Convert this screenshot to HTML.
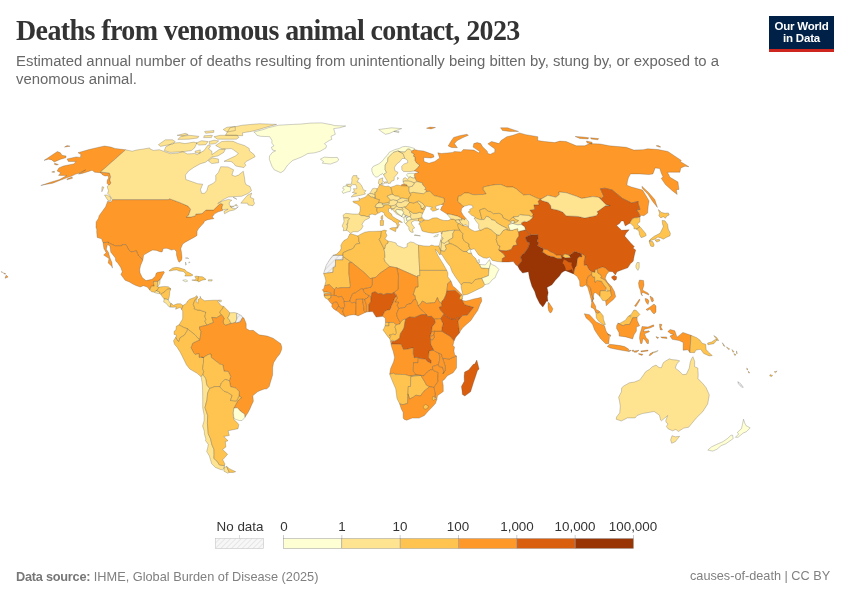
<!DOCTYPE html>
<html><head><meta charset="utf-8">
<style>
html,body{margin:0;padding:0;background:#fff;}
body{width:850px;height:600px;position:relative;overflow:hidden;font-family:"Liberation Sans",sans-serif;}
#title,#sub,#foot1,#foot2,.lg,#logo .t{will-change:transform;}
#title{position:absolute;left:16px;top:15px;font-family:"Liberation Serif",serif;font-weight:bold;font-size:28px;line-height:32px;color:#333;white-space:nowrap;letter-spacing:-0.6px;transform:scaleY(1.07);transform-origin:0 25.2px;}
#sub{position:absolute;left:16px;top:52px;width:760px;font-size:14.9px;line-height:18px;color:#686868;letter-spacing:0px;}
#logo{position:absolute;left:769px;top:16px;width:65px;height:36px;background:#002147;}
#logo .bar{position:absolute;left:0;bottom:0;width:65px;height:3px;background:#ce261e;}
#logo .t{position:absolute;left:0;top:5px;width:65px;text-align:center;color:#fff;font-weight:bold;font-size:11.5px;line-height:11.8px;letter-spacing:-0.2px;}
#map{position:absolute;left:0;top:0;}
.lg{position:absolute;font-size:13.4px;line-height:15px;color:#333;white-space:nowrap;}
#foot1{position:absolute;left:16px;top:569px;font-size:12.75px;color:#808080;white-space:nowrap;}
#foot2{position:absolute;right:20px;top:569px;font-size:12.7px;color:#808080;white-space:nowrap;}
</style></head><body>
<div id="title">Deaths from venomous animal contact, 2023</div>
<div id="sub">Estimated annual number of deaths resulting from unintentionally being bitten by, stung by, or exposed to a venomous animal.</div>
<div id="logo"><div class="t">Our World<br>in Data</div><div class="bar"></div></div>
<svg id="map" width="850" height="600" viewBox="0 0 850 600">
<defs><pattern id="hatch" width="4" height="4" patternUnits="userSpaceOnUse" patternTransform="rotate(45)"><rect width="4" height="4" fill="#f2f2f2"/><line x1="0" y1="0" x2="0" y2="4" stroke="#d0d0d0" stroke-width="1.2"/></pattern></defs>
<g stroke="#3a3a3a" stroke-opacity="0.55" stroke-width="0.45" stroke-linejoin="round">
<path fill="#fe9929" d="M107.7 201.2L111.0 202.2L112.7 199.6L168.9 199.6L169.4 198.7L179.0 202.2L188.0 206.1L190.7 209.2L188.6 215.2L186.4 217.0L190.8 217.0L195.6 215.7L195.7 214.1L202.0 213.6L206.0 210.0L213.4 210.0L218.0 205.6L220.3 203.6L222.3 203.9L222.9 204.5L221.7 208.1L222.8 210.0L222.6 210.5L218.4 211.8L214.9 213.6L212.7 216.2L212.1 217.0L213.8 218.3L213.6 218.8L210.2 219.3L207.1 219.9L204.2 221.4L203.8 223.0L200.9 225.9L200.3 226.7L198.7 228.5L197.1 231.1L197.0 235.5L194.4 237.2L190.7 239.2L185.7 241.9L182.7 244.0L180.8 248.5L181.6 253.3L182.0 258.0L181.4 260.4L179.3 262.2L178.9 262.0L177.7 259.6L176.5 255.1L176.5 251.7L174.3 249.3L171.5 250.1L167.8 248.5L166.1 248.3L163.3 248.5L162.1 252.0L159.7 251.7L156.6 250.4L152.7 250.1L150.2 251.2L143.6 255.1L142.9 260.0L138.5 255.9L137.3 253.3L136.5 250.9L131.1 252.0L128.8 249.9L125.9 244.6L122.1 244.6L121.7 245.8L115.2 245.8L108.1 242.7L108.5 242.2L103.0 242.7L101.6 238.8L97.2 237.5L96.7 231.9L96.8 228.8L96.0 228.2L96.1 221.9L98.5 218.3L99.1 215.7L105.6 206.8L107.7 201.2ZM125.6 149.8L114.9 148.4L110.9 147.1L104.5 146.0L96.7 147.7L89.1 149.5L78.0 152.7L81.0 154.6L80.6 156.0L80.7 157.4L76.1 156.9L67.0 159.0L68.4 161.5L76.2 161.5L73.6 163.9L68.1 165.0L63.3 166.0L58.9 167.9L57.1 171.0L60.7 172.7L58.5 175.4L64.1 175.4L66.7 175.6L59.5 179.5L49.6 182.5L40.8 185.5L45.5 184.5L52.7 183.2L60.9 180.0L67.4 177.6L71.8 176.1L75.8 174.1L79.0 173.2L85.7 169.8L78.6 174.1L82.2 173.4L87.8 171.7L92.1 170.3L94.7 172.2L99.8 172.7L101.5 173.4L102.3 174.7L105.0 176.0L108.0 175.7L108.7 178.0L107.3 180.0L107.0 183.3L108.7 185.0L109.3 185.0L111.0 183.0L109.7 180.0L110.7 176.7L109.3 173.0L100.5 172.0ZM66.9 179.8L72.5 178.3L72.1 177.1L67.4 178.8ZM54.7 163.2L58.4 164.6L56.2 165.0L54.3 164.3ZM54.4 171.2L54.4 172.4L51.7 172.0ZM5.1 278.3L8.1 277.0L6.2 275.2L5.8 276.0ZM3.4 272.8L5.9 273.9L4.4 274.1ZM1.4 271.5L2.6 272.3L1.8 272.5ZM-1.6 269.9L-0.6 270.4L-1.4 270.7Z"/>
<path fill="#fee391" d="M125.6 149.8L132.3 151.2L136.1 150.1L143.3 149.0L149.6 147.9L150.0 149.0L153.6 150.4L159.3 149.7L164.2 151.5L168.0 152.8L170.5 153.7L178.0 153.0L182.7 151.7L187.5 153.9L194.7 153.5L197.3 154.6L199.4 153.0L203.8 150.8L208.1 144.9L210.6 145.8L208.6 149.0L211.9 151.2L211.9 154.6L219.2 149.5L225.4 149.0L223.8 152.4L217.8 156.0L212.0 156.9L205.6 162.2L200.0 163.9L193.8 167.4L188.6 171.0L185.4 175.1L185.8 179.5L192.9 182.0L197.7 183.7L202.7 184.2L200.5 189.5L201.6 193.3L204.6 193.3L206.8 190.7L208.3 185.7L213.5 183.2L215.7 180.7L215.8 177.1L215.5 175.8L218.5 172.2L220.7 166.7L227.9 166.9L233.6 169.8L231.9 175.1L235.1 176.3L238.5 175.1L243.3 171.2L244.6 178.3L245.0 182.0L245.9 184.5L250.0 186.5L251.5 190.7L248.0 193.5L241.6 196.3L233.4 196.6L228.2 197.1L223.2 199.6L217.7 203.5L222.7 200.9L228.4 199.4L231.8 200.2L229.4 202.2L229.3 204.5L231.7 207.9L235.7 208.7L238.3 206.8L234.2 210.0L229.5 211.0L224.5 213.8L224.0 211.3L228.2 209.2L225.0 209.4L222.8 210.0L221.7 208.1L222.9 204.5L222.3 203.9L220.3 203.6L218.0 205.6L213.4 210.0L206.0 210.0L202.0 213.6L195.7 214.1L195.6 215.7L190.8 217.0L186.4 217.0L188.6 215.2L190.7 209.2L188.0 206.1L179.0 202.2L169.4 198.7L168.9 199.6L112.7 199.6L112.0 199.4L110.9 197.1L109.3 195.0L107.6 193.3L108.6 190.7L107.6 188.2L107.3 186.2L108.7 185.0L109.3 185.0L111.0 183.0L109.7 180.0L110.7 176.7L109.3 173.0L100.5 172.0ZM243.9 167.6L238.9 166.7L235.7 166.0L233.0 162.7L231.0 161.5L224.0 161.3L235.7 155.8L238.4 153.5L233.8 150.1L231.4 148.6L222.0 149.0L215.7 145.5L221.7 141.5L226.9 141.1L233.1 141.3L237.8 143.4L244.4 145.5L249.2 148.4L249.4 150.8L254.1 154.6L255.1 156.7L249.7 159.7L246.1 161.5L244.7 163.2L245.8 165.3ZM191.3 150.6L182.7 151.7L170.1 152.4L164.3 150.6L165.8 146.8L172.4 143.2L179.6 142.6L184.9 143.6L193.8 142.1L196.9 143.0L194.6 147.9ZM158.4 144.7L160.5 146.4L173.0 144.0L175.2 141.5L172.5 139.8L165.4 139.8L161.4 142.6ZM242.7 135.7L225.4 135.3L227.2 132.4L229.9 127.8L242.3 125.2L259.4 123.7L276.6 124.4L267.3 126.9L259.2 129.4L251.3 131.4L242.5 132.8ZM236.4 139.2L217.5 139.2L213.9 136.7L220.1 135.3L237.1 135.1L238.9 137.4ZM205.8 144.7L198.9 145.1L196.1 143.0L201.7 140.7L208.1 141.5ZM215.7 143.6L209.5 144.3L209.2 141.5L214.1 140.2L218.7 140.9ZM197.7 138.0L189.1 139.2L177.8 139.4L181.1 136.3L189.4 135.3L198.9 136.3ZM211.4 137.6L203.6 137.6L204.2 135.7L212.4 135.3ZM218.7 162.7L211.8 163.6L208.3 160.8L212.2 157.8L218.4 159.0ZM240.8 203.2L247.6 203.2L248.1 205.0L252.9 205.7L254.6 203.2L253.4 200.9L253.9 198.9L250.3 197.3L251.7 193.0L247.4 195.3L243.8 199.4ZM110.6 201.2L107.8 200.2L104.5 195.0L107.3 195.0L110.3 197.1L111.0 199.9ZM101.8 191.8L102.0 186.7L103.9 187.2ZM235.3 130.5L226.9 132.0L223.2 129.5L227.0 127.2L235.2 126.4ZM200.1 153.3L195.3 152.8L195.0 151.2L200.3 149.9ZM177.1 135.3L185.4 133.3L188.2 134.5L182.4 135.9ZM205.7 133.3L204.6 131.4L214.0 130.5L213.7 132.4ZM233.1 197.3L236.9 199.4L235.8 198.4ZM230.1 206.3L234.4 206.1L230.9 207.4ZM234.6 205.3L236.4 204.3L237.5 206.1Z"/>
<path fill="#ffffd4" d="M280.8 172.7L274.2 169.8L271.9 166.2L270.4 162.2L269.3 159.2L269.5 156.0L272.4 152.4L275.6 150.8L272.5 150.1L271.4 147.3L273.9 145.8L271.8 143.0L272.0 140.5L269.7 136.7L260.7 136.3L256.9 135.3L255.5 133.3L253.8 132.0L263.4 129.5L267.9 127.8L278.7 125.2L293.2 124.4L300.4 124.1L310.7 123.1L321.7 122.9L332.0 124.8L334.6 125.6L345.7 126.0L339.7 127.8L333.7 128.6L334.4 131.4L335.3 134.3L331.0 136.3L331.8 139.4L329.2 140.5L324.5 143.6L326.5 145.8L326.0 147.9L320.3 151.2L314.8 152.8L307.8 153.5L301.7 156.9L296.5 159.0L292.7 160.4L290.2 162.7L287.7 165.0L286.0 167.4L284.1 170.5Z"/>
<path fill="#fe9929" d="M103.0 242.7L108.5 242.2L108.1 242.7L115.2 245.8L121.7 245.8L122.1 244.6L125.9 244.6L128.8 249.9L131.1 252.0L136.5 250.9L137.3 253.3L138.5 255.9L142.9 260.0L140.5 265.7L139.7 269.8L140.1 273.1L142.4 277.8L146.0 280.6L152.1 279.3L155.5 276.1L156.1 273.3L157.8 272.3L163.9 271.5L164.4 272.5L162.7 275.2L161.5 277.8L160.1 279.7L157.9 281.4L153.7 281.4L153.5 283.0L154.3 286.1L151.4 286.1L150.3 288.7L149.8 290.1L147.2 287.0L143.4 285.7L140.3 287.0L135.9 285.5L132.8 284.0L129.4 282.0L125.1 280.2L123.6 278.2L120.9 274.6L122.3 271.7L120.6 267.3L117.7 263.0L115.7 260.9L115.4 258.0L113.0 254.9L110.8 252.2L109.9 245.9L107.4 244.6L106.3 249.3L108.5 252.5L109.7 257.2L111.9 262.5L112.1 264.9L112.4 268.1L112.0 266.5L108.2 263.0L109.0 258.6L103.6 255.0L106.2 252.8L103.9 248.5L103.3 244.8Z"/>
<path fill="#fec44f" d="M149.8 290.1L150.3 288.7L151.4 286.1L154.3 286.1L153.5 283.0L153.7 281.4L157.9 281.4L157.3 286.5L158.5 287.0L159.4 287.0L156.9 290.5L156.4 290.5L154.5 292.2L151.5 291.8Z"/>
<path fill="#fee391" d="M157.9 281.4L160.1 279.7L159.8 283.6L157.9 286.5L157.3 286.5Z"/>
<path fill="#fee391" d="M154.5 292.2L156.4 290.5L158.3 291.5L160.0 292.1L159.7 293.6L158.1 293.6L155.1 292.8Z"/>
<path fill="#fec44f" d="M159.4 287.0L164.6 286.4L168.4 286.8L170.9 288.9L167.3 289.2L164.7 291.8L162.2 293.4L160.8 294.3L159.7 293.6L160.0 292.1L158.3 291.5L156.4 290.5L156.9 290.5Z"/>
<path fill="#fec44f" d="M170.9 288.9L169.8 291.5L169.5 295.5L168.7 299.4L168.2 299.7L166.4 299.2L164.1 298.9L162.4 296.8L160.8 294.3L162.2 293.4L164.7 291.8L167.3 289.2Z"/>
<path fill="#fee391" d="M168.2 299.7L170.1 303.1L171.0 303.3L170.1 307.1L168.5 306.3L165.9 303.1L163.7 302.1L164.1 298.9L166.4 299.2Z"/>
<path fill="#fec44f" d="M171.0 303.3L173.5 305.2L177.3 303.8L180.5 303.7L183.0 305.5L181.6 309.5L180.3 307.3L175.6 309.2L176.2 306.8L173.4 307.3L170.1 307.1Z"/>
<path fill="#fec44f" d="M168.9 270.8L172.5 268.1L176.1 267.3L179.4 267.8L184.9 269.6L186.9 271.7L189.9 273.1L193.0 275.0L192.2 275.6L190.5 276.0L184.8 276.1L185.9 274.1L183.5 271.5L179.0 271.0L176.9 269.9L173.4 270.2L170.1 271.0Z"/>
<path fill="#fec44f" d="M191.8 280.1L195.5 280.7L198.0 281.0L198.5 276.5L196.0 276.0L194.6 276.8L196.0 278.1L195.6 279.7Z"/>
<path fill="#fec44f" d="M198.0 281.0L198.6 282.0L202.0 280.2L206.0 279.4L204.7 278.3L202.6 276.8L198.5 276.5Z"/>
<path fill="#ffffd4" d="M182.8 280.2L186.0 279.7L187.7 281.0L185.8 281.8L183.6 281.0Z"/>
<path fill="#fee391" d="M208.2 281.0L212.0 281.0L212.2 279.7L208.5 279.7Z"/>
<path fill="#ffffd4" d="M185.5 262.0L186.4 264.6L185.5 265.1ZM187.7 257.8L188.7 258.6L185.4 258.0ZM189.3 261.7L189.9 262.5L188.7 263.0Z"/>
<path fill="#fee391" d="M219.1 301.8L221.2 301.8L221.3 300.0L219.2 300.2Z"/>
<path fill="#fec44f" d="M183.0 305.5L186.3 303.4L187.6 301.0L189.3 299.4L190.8 298.8L194.8 297.3L196.8 295.6L197.6 297.2L195.4 299.2L194.6 301.0L193.2 304.2L194.5 307.3L194.2 308.9L197.6 310.0L199.7 310.1L205.8 312.1L204.9 316.6L206.0 319.7L204.8 321.1L206.9 325.2L200.7 326.6L199.6 326.9L199.6 329.0L201.0 331.4L200.0 339.5L198.1 338.5L195.0 334.8L191.2 331.9L187.4 328.7L184.2 327.7L181.6 326.3L179.0 324.8L182.2 319.7L182.7 318.2L182.7 311.0L181.6 309.5Z"/>
<path fill="#fec44f" d="M197.6 297.2L196.7 299.7L196.0 301.0L197.9 303.4L198.1 299.4L200.3 298.1L200.2 296.3L201.0 298.4L204.6 300.8L207.6 300.5L214.3 300.2L219.2 300.2L217.7 301.5L221.3 305.8L223.8 306.4L221.8 309.5L220.4 311.0L219.9 312.9L221.4 314.7L216.5 317.9L211.8 317.4L213.6 322.4L206.9 325.2L204.8 321.1L206.0 319.7L204.9 316.6L205.8 312.1L199.7 310.1L197.6 310.0L194.2 308.9L194.5 307.3L193.2 304.2L194.6 301.0L195.4 299.2Z"/>
<path fill="#fec44f" d="M223.8 306.4L227.8 310.5L229.7 312.8L229.3 315.3L227.7 317.9L229.2 319.7L231.1 323.4L225.7 325.3L223.6 323.7L223.2 321.3L224.1 318.4L223.0 316.6L221.4 314.7L219.9 312.9L220.4 311.0L221.8 309.5Z"/>
<path fill="#fee391" d="M229.7 312.8L234.7 312.6L237.2 313.3L236.6 314.5L236.9 319.0L235.5 322.4L232.2 323.4L231.1 323.4L229.2 319.7L227.7 317.9L229.3 315.3Z"/>
<path fill="url(#hatch)" d="M237.2 313.3L241.7 315.8L242.6 317.5L240.4 321.9L236.7 322.9L235.5 322.4L236.9 319.0L236.6 314.5Z"/>
<path fill="#fe9929" d="M242.6 317.5L243.9 317.9L246.2 323.7L246.2 328.4L249.7 330.6L253.2 330.3L259.0 334.8L267.2 336.1L273.0 338.2L280.8 343.7L281.8 347.3L281.6 349.7L279.8 354.0L276.9 357.5L273.6 362.7L272.7 367.5L272.6 375.1L270.5 382.0L269.2 386.5L267.0 388.8L264.3 389.1L261.0 390.2L257.5 391.8L252.8 395.7L253.4 401.2L251.6 404.9L249.9 408.9L248.2 412.3L244.8 417.5L244.7 414.2L240.2 411.0L237.4 407.8L233.9 408.1L236.7 402.8L238.2 400.5L241.5 397.6L239.0 396.0L239.3 391.8L236.0 388.1L230.6 386.7L229.4 380.7L230.7 376.5L228.2 371.4L224.0 371.2L222.9 364.8L219.8 364.1L211.3 357.5L210.9 354.0L208.2 354.6L203.5 357.5L201.4 357.3L199.1 357.5L198.9 353.5L195.2 354.6L193.5 352.5L190.9 347.7L192.8 343.0L199.7 339.8L200.0 339.5L201.0 331.4L199.6 329.0L199.6 326.9L200.7 326.6L206.9 325.2L213.6 322.4L211.8 317.4L216.5 317.9L221.4 314.7L223.0 316.6L224.1 318.4L223.2 321.3L223.6 323.7L225.7 325.3L231.1 323.4L232.2 323.4L235.5 322.4L236.7 322.9L240.4 321.9Z"/>
<path fill="#fec44f" d="M179.0 324.8L176.3 326.3L176.0 329.8L174.2 331.2L174.0 334.3L176.6 335.3L175.7 337.4L177.2 340.3L178.8 341.6L180.1 337.7L184.3 335.3L187.2 330.8L187.4 328.7L184.2 327.7L181.6 326.3Z"/>
<path fill="#fec44f" d="M175.7 337.4L173.5 340.8L174.5 344.3L177.2 347.4L180.2 352.2L184.2 360.2L186.4 364.8L189.8 369.1L197.1 373.3L201.1 376.8L202.9 374.6L203.8 371.4L202.6 368.8L203.5 362.5L203.5 357.5L201.4 357.3L199.1 357.5L198.9 353.5L195.2 354.6L193.5 352.5L190.9 347.7L192.8 343.0L199.7 339.8L200.0 339.5L198.1 338.5L195.0 334.8L191.2 331.9L187.4 328.7L187.2 330.8L184.3 335.3L180.1 337.7L178.8 341.6L177.2 340.3Z"/>
<path fill="#fec44f" d="M201.4 357.3L203.5 357.5L203.5 362.5L202.6 368.8L203.8 371.4L202.9 374.6L205.6 378.6L206.8 385.2L209.6 388.6L214.4 386.7L219.4 386.5L219.9 387.0L221.4 382.8L225.2 379.4L229.4 380.7L230.7 376.5L228.2 371.4L224.0 371.2L222.9 364.8L219.8 364.1L211.3 357.5L210.9 354.0L208.2 354.6L203.5 357.5Z"/>
<path fill="#fee391" d="M201.1 376.8L202.3 383.8L202.6 390.8L202.7 399.7L202.7 407.6L204.2 415.5L204.1 420.8L202.6 426.0L204.3 431.3L204.4 433.9L205.9 439.1L205.4 440.4L208.3 444.4L207.6 448.2L206.7 451.6L209.4 456.0L211.6 463.6L215.3 467.4L220.2 469.4L222.4 469.9L223.8 468.7L224.5 465.7L219.4 464.9L217.0 461.1L213.9 458.5L214.1 454.7L214.0 449.5L211.8 444.4L210.7 439.1L208.3 433.9L207.4 423.4L207.7 415.5L205.0 407.6L207.0 399.7L207.6 393.1L209.6 388.6L206.8 385.2L205.6 378.6L202.9 374.6ZM226.6 466.4L224.2 467.4L223.9 471.2L227.8 473.2L229.2 472.4Z"/>
<path fill="#fec44f" d="M209.6 388.6L207.6 393.1L207.0 399.7L205.0 407.6L207.7 415.5L207.4 423.4L208.3 433.9L210.7 439.1L211.8 444.4L214.0 449.5L214.1 454.7L213.9 458.5L217.0 461.1L219.4 464.9L224.5 465.7L224.9 463.9L222.7 459.8L225.0 457.3L227.6 454.2L222.6 449.5L225.9 446.9L225.3 441.7L228.0 440.7L223.8 436.5L229.3 435.5L228.1 430.8L238.0 428.7L238.8 424.5L236.6 422.1L234.2 419.7L233.4 416.8L233.3 412.9L233.9 408.1L236.7 402.8L238.2 400.5L241.5 397.6L239.0 396.0L236.5 401.0L230.5 400.5L232.2 395.4L227.5 392.3L224.0 391.2L219.9 387.0L219.4 386.5L214.4 386.7ZM226.6 466.4L229.2 472.4L233.3 472.4L235.7 471.7L229.8 468.9Z"/>
<path fill="#ffffd4" d="M244.8 417.5L242.0 420.6L239.2 420.5L235.4 419.2L233.9 418.1L233.3 412.9L233.9 408.1L237.4 407.8L240.2 411.0L244.7 414.2Z"/>
<path fill="#fec44f" d="M239.0 396.0L239.3 391.8L236.0 388.1L230.6 386.7L229.4 380.7L225.2 379.4L221.4 382.8L219.9 387.0L224.0 391.2L227.5 392.3L232.2 395.4L230.5 400.5L236.5 401.0Z"/>
<path fill="#fe9929" d="M414.3 149.5L418.3 150.4L423.6 151.0L433.3 154.6L434.1 156.9L431.0 158.0L423.7 157.4L424.0 161.5L429.0 163.2L434.7 161.5L439.7 158.0L437.8 152.8L441.5 153.5L452.9 152.4L454.2 151.5L461.2 151.9L463.3 149.5L473.8 150.1L478.9 153.0L479.7 151.5L473.1 147.1L473.8 143.6L477.2 142.6L480.7 143.6L482.6 146.8L487.2 151.2L487.7 153.5L490.7 154.2L492.6 153.0L494.7 152.4L494.9 149.0L487.8 143.8L491.6 141.5L499.0 143.6L501.1 140.5L506.8 136.7L512.9 135.3L519.5 132.9L525.9 134.7L537.8 136.7L537.7 140.5L544.5 141.5L554.6 142.6L560.0 141.1L566.1 141.5L576.4 145.8L584.6 145.8L589.9 143.6L600.3 144.0L609.3 145.8L626.3 147.3L633.8 150.1L643.2 149.7L647.8 148.8L658.0 149.5L667.9 151.5L681.3 160.4L680.3 161.5L688.9 166.7L685.0 166.2L680.8 167.9L679.9 172.2L669.7 172.2L667.2 172.4L668.8 174.6L669.7 177.1L678.0 182.0L678.3 185.0L679.0 189.5L676.3 189.7L677.2 194.5L672.3 190.7L665.4 184.5L661.2 178.3L663.1 177.1L661.2 172.9L659.8 168.6L655.2 167.9L652.9 173.9L649.1 174.6L639.8 173.9L630.5 173.9L628.5 177.6L627.4 181.5L626.9 185.2L631.4 187.0L640.5 189.5L642.5 190.0L646.8 197.1L649.1 200.9L648.2 206.1L647.6 213.1L643.9 215.7L641.1 215.2L639.9 217.0L639.6 215.4L638.4 212.5L636.2 210.0L640.0 209.4L638.0 203.2L638.2 201.4L631.7 203.0L622.4 198.4L612.2 190.0L604.9 188.2L600.4 188.7L603.8 196.3L601.7 198.4L598.9 197.5L597.2 197.1L592.8 196.6L581.8 198.4L576.5 196.3L566.4 192.8L558.9 192.0L559.4 194.5L555.9 197.3L547.8 195.3L541.5 198.9L540.0 199.1L537.0 198.1L529.3 194.5L523.5 195.0L516.1 188.7L512.7 187.0L506.8 187.0L500.8 184.5L495.1 184.7L490.5 185.5L483.3 187.0L483.3 189.5L486.2 193.8L483.1 194.5L479.1 194.5L475.2 194.8L472.1 194.5L468.6 193.0L464.2 193.0L460.8 195.8L458.4 196.1L457.7 201.2L459.8 203.0L463.1 206.3L464.1 206.3L461.5 208.7L461.2 211.8L463.2 215.2L465.8 218.3L464.6 219.9L461.5 218.3L457.9 216.2L454.6 215.4L451.2 214.4L447.0 214.1L443.4 211.8L440.5 210.0L441.8 206.6L443.7 204.8L441.4 204.5L443.9 202.7L444.6 202.2L444.0 198.1L439.9 197.1L437.3 196.3L433.9 195.6L429.8 191.2L426.0 191.8L426.5 190.5L424.5 189.5L425.7 188.2L425.0 187.0L422.7 185.0L422.5 183.0L417.0 181.6L415.6 179.5L414.9 177.7L414.2 175.1L415.0 173.5L418.9 172.4L415.5 171.2L413.9 171.0L416.8 168.6L419.6 165.3L416.5 162.9L414.9 160.4L414.9 156.9L413.2 156.2L414.2 154.2L411.3 152.6L411.6 151.1ZM448.2 146.0L450.8 141.5L453.7 137.4L459.5 135.7L466.8 134.3L468.4 135.3L462.6 137.8L457.3 140.5L454.4 143.6L457.4 147.7L451.5 147.5ZM502.5 130.5L509.6 131.4L518.5 131.4L507.6 127.8L500.5 127.8ZM575.2 136.5L583.1 137.0L588.8 137.8L588.0 138.9L579.8 138.5ZM590.5 137.8L598.7 138.6L597.9 139.8L591.3 139.1ZM586.4 141.1L592.1 142.2L592.1 143.9L587.2 143.1ZM656.1 145.8L658.2 145.5L660.8 147.1L659.1 147.1ZM67.1 145.5L70.1 146.2L64.5 147.1ZM657.4 207.4L654.8 199.6L648.6 192.5L641.9 186.2L642.3 188.2L648.1 194.5L652.3 200.9ZM426.5 128.2L430.0 127.1L435.5 127.5L431.0 128.9ZM401.1 185.8L407.2 186.1L406.8 184.7L404.0 184.0L401.6 184.6ZM57.4 151.5L60.4 152.8L61.9 155.3L66.1 156.0L65.8 157.8L60.7 159.2L54.2 162.0L51.8 159.9L48.4 159.2L44.0 160.4Z"/>
<path fill="#ffffd4" d="M375.9 177.1L373.4 174.9L371.9 171.2L371.8 168.4L373.5 166.2L378.0 164.3L381.4 162.0L383.8 159.2L386.1 156.2L387.5 155.1L389.1 152.4L391.4 151.2L394.6 149.7L399.4 148.4L402.4 146.8L405.2 146.4L409.0 146.8L414.4 148.4L414.3 149.5L411.6 151.1L409.9 149.3L407.9 149.0L406.0 150.6L405.0 152.1L400.7 151.9L398.2 151.1L397.4 151.1L393.3 152.4L391.1 154.6L388.0 157.8L387.6 161.5L385.2 165.0L385.1 169.8L386.5 172.2L384.8 173.9L383.5 174.6L382.3 173.4L381.4 174.6L380.5 174.6L377.8 176.8ZM385.5 134.3L389.8 133.3L393.8 131.4L401.7 128.6L391.4 127.8L385.8 128.6L378.7 129.5L382.0 132.0ZM393.8 131.4L398.7 132.8L399.0 131.4Z"/>
<path fill="#fee391" d="M383.5 174.6L385.3 177.8L387.3 181.2L387.9 183.5L390.5 183.2L391.0 181.5L394.1 180.3L394.3 177.3L397.3 173.9L398.0 172.4L394.8 170.5L394.4 167.4L396.8 163.9L400.0 161.5L402.1 158.5L404.9 158.5L404.1 156.2L403.1 153.7L398.2 151.1L397.4 151.1L393.3 152.4L391.1 154.6L388.0 157.8L387.6 161.5L385.2 165.0L385.1 169.8L386.5 172.2L384.8 173.9ZM397.5 179.5L398.6 178.3L397.7 177.3Z"/>
<path fill="#fee391" d="M404.9 158.5L407.6 160.4L407.7 162.7L404.0 163.9L401.7 166.2L401.9 169.8L403.5 171.5L409.1 171.7L413.9 171.0L416.8 168.6L419.6 165.3L416.5 162.9L414.9 160.4L414.9 156.9L413.2 156.2L414.2 154.2L411.3 152.6L411.6 151.1L409.9 149.3L407.9 149.0L406.0 150.6L405.0 152.1L400.7 151.9L398.2 151.1L403.1 153.7L404.1 156.2Z"/>
<path fill="#fee391" d="M378.3 183.2L379.1 179.3L382.8 177.8L382.4 180.7L383.6 181.2L381.6 183.2L381.2 184.8L379.4 184.7ZM384.0 183.2L387.0 183.0L386.5 181.7L384.4 182.0ZM381.5 183.5L383.6 183.7L383.1 184.5Z"/>
<path fill="#ffffd4" d="M406.6 174.6L407.6 173.7L411.0 173.2L415.0 173.5L414.2 175.1L414.9 177.7L413.1 178.2L410.4 176.9L408.8 177.3L407.8 176.3L407.0 175.8Z"/>
<path fill="#fee391" d="M403.0 180.7L403.0 179.5L403.9 178.0L405.6 177.7L407.6 179.5L408.8 177.3L410.4 176.9L413.1 178.2L414.9 177.7L415.6 179.5L417.0 181.6L414.1 182.9L410.8 181.5L408.8 181.1L404.9 181.0L403.1 181.7Z"/>
<path fill="#fee391" d="M403.1 181.7L404.9 181.0L408.8 181.1L410.8 181.5L414.1 182.9L414.3 184.1L412.9 185.0L412.7 186.2L408.8 187.1L407.2 186.1L406.8 184.7L404.0 184.0L403.3 182.7Z"/>
<path fill="#fee391" d="M409.9 193.3L408.8 191.2L408.8 187.1L412.7 186.2L412.9 185.0L414.3 184.1L414.1 182.9L417.0 181.6L422.5 183.0L422.7 185.0L425.0 187.0L425.7 188.2L424.5 189.5L426.5 190.5L426.0 191.8L423.7 193.8L421.3 193.5L416.6 193.0L413.1 192.3Z"/>
<path fill="#fec44f" d="M390.5 187.2L394.0 186.2L396.8 185.0L398.9 185.2L401.1 185.8L407.2 186.1L408.8 187.1L408.8 191.2L409.9 193.3L411.1 194.9L409.2 197.1L408.6 199.4L405.3 198.6L402.2 198.1L400.8 198.4L398.4 196.3L395.3 196.1L392.8 194.5L391.8 192.5L391.6 190.5Z"/>
<path fill="#fec44f" d="M376.9 188.7L378.4 187.7L379.4 184.7L381.2 184.8L384.0 186.0L386.0 186.5L388.1 186.0L390.5 187.2L391.6 190.5L391.8 192.5L392.8 194.5L391.3 194.4L387.1 196.3L390.8 200.2L389.2 201.4L389.4 203.5L387.7 203.0L384.2 203.4L382.4 203.4L380.1 202.7L378.3 203.2L379.3 199.6L376.3 199.1L375.6 198.4L375.0 196.8L374.9 195.0L374.6 192.5L376.6 191.5Z"/>
<path fill="#fee391" d="M376.9 188.7L376.6 191.5L374.6 192.5L374.9 195.0L374.1 194.5L371.3 193.5L369.5 193.5L370.6 192.0L371.8 190.0L372.5 188.7L374.5 188.2Z"/>
<path fill="#fee391" d="M367.8 194.3L369.5 193.5L371.3 193.5L374.1 194.5L374.9 195.0L375.0 196.8L374.4 198.2L372.4 197.1L371.1 197.2Z"/>
<path fill="#fec44f" d="M367.8 194.3L365.9 196.8L363.1 197.9L360.2 198.9L358.8 197.9L359.4 200.7L352.8 201.2L353.8 202.7L357.5 204.0L360.2 206.8L360.1 211.0L358.9 214.1L361.0 215.7L364.1 215.7L366.3 216.5L369.4 216.7L369.2 214.9L372.1 214.1L375.3 214.9L378.4 213.1L377.3 212.0L376.8 210.0L377.2 207.6L375.1 206.8L376.6 204.0L378.3 203.2L379.3 199.6L376.3 199.1L375.6 198.4L374.4 198.2L372.4 197.1L371.1 197.2ZM381.0 219.3L382.7 219.3L382.7 215.2L381.3 216.2L380.9 218.0Z"/>
<path fill="#fee391" d="M358.9 214.1L353.2 214.1L345.8 213.3L343.0 215.2L343.7 218.0L348.6 217.9L349.4 218.8L347.9 220.4L347.6 224.0L346.5 224.0L347.5 225.9L346.3 230.3L348.7 231.4L350.4 233.5L353.1 231.7L357.9 231.7L361.3 229.3L363.1 226.1L362.0 224.3L364.6 220.4L369.5 218.0L369.4 216.7L366.3 216.5L364.1 215.7L361.0 215.7Z"/>
<path fill="#fee391" d="M343.7 218.0L344.0 221.7L342.1 226.1L343.6 228.2L343.3 230.9L346.3 230.3L347.5 225.9L346.5 224.0L347.6 224.0L347.9 220.4L349.4 218.8L348.6 217.9Z"/>
<path fill="#fee391" d="M375.1 206.8L376.6 204.0L378.3 203.2L380.1 202.7L382.4 203.4L382.2 204.5L384.3 205.0L383.6 206.8L381.3 207.6L378.8 207.6L377.2 207.6Z"/>
<path fill="#fee391" d="M382.4 203.4L384.2 203.4L387.7 203.0L389.4 203.5L389.2 201.4L390.8 200.2L393.2 199.6L397.2 200.7L397.7 202.2L396.6 203.7L395.9 205.0L391.0 206.1L388.0 204.8L384.3 205.0L382.2 204.5Z"/>
<path fill="#fec44f" d="M378.4 213.1L379.9 212.5L381.1 211.5L384.1 212.8L384.8 215.4L388.2 218.3L391.5 219.9L393.3 221.4L396.1 223.0L397.2 225.6L396.7 228.2L397.6 228.2L398.5 226.1L399.5 224.6L398.1 223.3L399.1 221.7L402.4 222.7L401.2 221.4L396.7 219.1L395.0 218.0L392.3 216.2L391.3 213.8L388.7 212.0L388.5 208.9L391.1 208.1L391.0 206.1L388.0 204.8L384.3 205.0L383.6 206.8L381.3 207.6L378.8 207.6L377.2 207.6L376.8 210.0L377.3 212.0ZM389.6 228.8L395.6 231.7L396.4 227.5L391.9 227.7ZM380.3 225.6L383.4 225.4L383.6 220.6L382.3 219.9L380.2 220.6Z"/>
<path fill="#fee391" d="M387.1 196.3L391.3 194.4L392.8 194.5L395.3 196.1L398.4 196.3L400.8 198.4L397.5 200.2L397.2 200.7L393.2 199.6L390.8 200.2Z"/>
<path fill="#fee391" d="M397.2 200.7L397.5 200.2L400.8 198.4L402.2 198.1L405.3 198.6L408.6 199.4L408.4 201.2L405.1 200.7L401.2 202.7L397.7 202.2Z"/>
<path fill="#fee391" d="M397.7 202.2L401.2 202.7L405.1 200.7L408.4 201.2L409.6 202.3L406.2 206.8L404.5 207.1L401.7 207.6L398.6 207.5L395.9 205.0L396.6 203.7Z"/>
<path fill="#fee391" d="M391.0 206.1L395.9 205.0L397.0 206.1L394.8 207.6L394.3 208.7L391.0 208.7L391.1 208.1Z"/>
<path fill="#fee391" d="M391.0 208.7L394.3 208.7L394.8 207.6L397.0 206.1L398.6 207.5L401.7 207.6L403.1 209.4L402.3 210.2L397.1 209.4L395.7 210.7L396.9 212.8L399.8 214.9L401.9 216.6L399.7 215.5L396.4 213.8L394.5 212.0L392.9 209.4L391.7 210.2Z"/>
<path fill="#ffffd4" d="M395.7 210.7L397.1 209.4L402.3 210.2L403.8 212.5L403.1 213.8L402.2 215.2L401.9 216.6L399.8 214.9L396.9 212.8Z"/>
<path fill="#fee391" d="M402.3 210.2L403.1 209.4L401.7 207.6L404.5 207.1L407.5 209.4L410.2 211.3L409.7 212.5L411.0 214.6L410.3 216.7L408.5 217.0L406.4 215.4L405.6 215.4L404.0 214.6L403.1 213.8L403.8 212.5Z"/>
<path fill="url(#hatch)" d="M405.2 216.2L406.4 215.4L408.5 217.0L406.4 218.0L405.3 217.2Z"/>
<path fill="#ffffd4" d="M401.9 216.6L403.1 213.8L404.0 214.6L405.6 215.4L405.2 216.2L403.9 218.0Z"/>
<path fill="#ffffd4" d="M403.9 218.0L405.2 216.2L406.4 218.0L406.7 220.4L407.6 221.4L405.9 223.8L404.2 222.2L404.3 220.4Z"/>
<path fill="#ffffd4" d="M406.4 218.0L408.5 217.0L410.3 216.7L411.7 219.3L409.6 220.1L406.7 220.4Z"/>
<path fill="#fee391" d="M405.9 223.8L407.6 221.4L409.6 220.1L411.7 219.3L413.8 219.1L418.6 218.5L418.5 220.9L414.8 220.6L411.9 221.9L411.2 223.0L412.9 225.6L414.7 228.0L412.4 229.3L413.3 232.3L411.8 232.4L410.0 231.4L408.7 229.0L409.0 227.2L407.3 225.9ZM414.2 235.3L420.4 235.9L415.3 234.8Z"/>
<path fill="#fee391" d="M409.7 212.5L410.2 211.3L413.1 213.3L416.5 213.3L419.3 212.3L422.8 213.2L421.7 215.9L422.1 217.8L418.6 218.5L413.8 219.1L411.7 219.3L410.3 216.7L411.0 214.6Z"/>
<path fill="#fec44f" d="M404.5 207.1L406.2 206.8L409.6 202.3L413.8 203.0L417.1 201.6L421.0 205.8L421.4 208.7L424.6 209.4L422.8 213.2L419.3 212.3L416.5 213.3L413.1 213.3L410.2 211.3L407.5 209.4Z"/>
<path fill="#fee391" d="M417.1 201.6L418.8 200.9L422.7 203.5L425.0 206.3L422.4 208.7L421.4 208.7L421.0 205.8Z"/>
<path fill="#fec44f" d="M408.6 199.4L409.2 197.1L411.1 194.9L409.9 193.3L413.1 192.3L416.6 193.0L421.3 193.5L423.7 193.8L426.0 191.8L429.8 191.2L433.9 195.6L437.3 196.3L439.9 197.1L444.0 198.1L444.6 202.2L443.9 202.7L441.4 204.5L437.1 205.8L435.2 206.8L436.6 209.2L438.9 208.9L435.8 210.5L432.8 211.3L430.3 208.9L432.4 207.4L428.3 206.6L426.2 206.1L424.6 209.4L421.4 208.7L422.4 208.7L425.0 206.3L422.7 203.5L418.8 200.9L417.1 201.6L413.8 203.0L409.6 202.3L408.4 201.2Z"/>
<path fill="#ffffd4" d="M320.4 159.2L324.3 157.1L331.2 157.6L337.3 157.4L338.8 159.9L336.8 161.7L330.3 164.1L322.3 163.2L323.5 161.5Z"/>
<path fill="#ffffd4" d="M350.4 186.7L350.8 188.7L350.1 191.5L347.7 191.8L343.0 193.4L342.1 191.8L344.3 189.2L342.7 188.5L343.3 186.5L346.0 186.0L346.5 184.1L348.6 184.3L346.7 185.8L348.9 186.7Z"/>
<path fill="#fee391" d="M351.1 197.0L355.6 196.3L360.6 195.3L365.5 194.0L364.4 192.5L366.1 190.7L363.2 189.7L362.8 188.2L361.7 185.7L359.7 183.2L358.8 182.2L356.9 182.0L359.2 178.3L356.9 177.8L357.0 175.6L353.2 175.6L351.8 178.3L351.9 180.7L351.4 183.7L353.1 184.7L355.8 184.7L356.8 187.0L356.7 188.7L353.4 188.7L354.5 191.2L352.3 192.5L356.6 193.3L354.2 194.0ZM348.6 184.3L350.8 184.0L351.9 185.5L350.4 186.7L348.9 186.7L346.7 185.8Z"/>
<path fill="#fec44f" d="M419.7 224.3L421.2 228.2L422.1 230.9L424.4 231.7L429.3 232.7L432.6 233.2L436.9 232.7L441.1 231.4L441.0 233.5L441.9 234.0L442.6 231.4L445.5 231.4L449.7 230.6L454.7 230.3L460.1 230.3L458.5 228.2L458.5 224.6L459.0 223.8L456.0 221.7L455.7 220.1L453.2 219.1L451.1 219.1L448.1 220.6L443.8 220.4L440.5 219.6L437.0 217.8L432.8 218.0L428.8 220.1L424.5 219.9L421.6 222.2L419.5 222.5L418.8 224.3ZM418.6 218.5L422.1 217.8L424.5 219.9L420.1 221.9L418.5 220.9Z"/>
<path fill="#ffffd4" d="M433.7 236.9L437.4 236.4L438.4 234.3L434.9 235.6Z"/>
<path fill="#fee391" d="M447.0 214.1L451.1 219.1L453.2 219.1L455.7 220.1L458.7 219.9L462.1 220.1L461.5 218.3L457.9 216.2L454.6 215.4L451.2 214.4Z"/>
<path fill="#fee391" d="M455.7 220.1L458.7 219.9L459.9 220.6L460.6 223.0L462.7 224.3L463.0 225.9L461.9 225.6L459.4 223.5L459.0 223.8L456.0 221.7Z"/>
<path fill="#fee391" d="M458.7 219.9L462.1 220.1L461.5 218.3L464.6 219.9L465.8 218.3L468.7 221.7L468.8 224.3L468.5 227.2L466.0 224.3L463.0 225.9L462.7 224.3L460.6 223.0L459.9 220.6Z"/>
<path fill="#fee391" d="M374.4 198.2L375.6 198.4L375.0 196.8L374.4 197.1Z"/>
<path fill="#fec44f" d="M349.7 234.0L351.1 233.8L357.8 235.9L358.7 237.5L358.9 241.4L360.0 243.3L356.2 244.0L354.4 246.2L354.4 247.2L351.5 249.3L348.1 250.4L343.1 252.8L343.1 255.4L332.9 255.4L336.8 254.1L340.2 250.6L341.2 248.3L340.8 245.4L342.2 242.7L343.9 240.6L347.7 238.5Z"/>
<path fill="url(#hatch)" d="M343.1 255.4L332.9 255.4L329.9 259.3L326.3 265.1L323.6 273.6L333.0 272.3L333.1 267.8L335.4 266.6L335.5 259.9L343.0 259.9Z"/>
<path fill="#fec44f" d="M323.6 273.6L324.9 277.0L325.9 281.0L324.7 285.7L329.3 284.7L334.5 289.7L336.1 287.3L337.7 288.4L340.8 287.7L350.0 287.6L350.4 285.5L348.9 273.1L349.0 262.8L351.8 262.5L343.0 256.4L343.0 259.9L335.5 259.9L335.4 266.6L333.1 267.8L333.0 272.3Z"/>
<path fill="#fec44f" d="M357.8 235.9L360.5 234.3L364.8 232.2L369.2 231.4L373.5 231.4L381.4 231.1L381.1 234.8L380.7 237.2L379.2 239.3L383.9 248.5L384.6 252.0L385.0 257.2L384.1 258.8L385.3 261.7L389.9 266.5L379.8 273.3L375.9 277.3L372.3 278.1L370.2 278.6L364.9 273.1L351.8 262.5L343.0 256.4L343.1 252.8L348.1 250.4L351.5 249.3L354.4 247.2L354.4 246.2L356.2 244.0L360.0 243.3L358.9 241.4L358.7 237.5Z"/>
<path fill="#fec44f" d="M381.4 231.1L384.2 230.1L386.6 230.6L385.6 232.4L387.0 235.6L384.9 239.0L388.1 241.1L388.2 243.0L385.6 244.8L385.0 248.5L383.9 248.5L379.2 239.3L380.7 237.2L381.1 234.8Z"/>
<path fill="#fee391" d="M388.1 241.1L391.9 241.7L396.1 243.0L397.1 245.4L404.0 248.0L407.2 246.7L407.1 243.8L410.3 241.9L413.6 242.5L416.0 244.0L418.5 245.1L418.6 249.3L419.7 270.4L419.9 275.7L417.6 275.7L417.6 277.0L396.8 267.8L389.9 266.5L385.3 261.7L384.1 258.8L385.0 257.2L384.6 252.0L383.9 248.5L385.0 248.5L385.6 244.8L388.2 243.0Z"/>
<path fill="#fec44f" d="M418.5 245.1L423.9 245.9L429.3 246.2L431.6 245.1L434.6 245.9L438.8 245.9L440.8 250.6L439.9 255.1L436.6 250.4L435.3 249.3L435.9 251.2L438.1 255.9L440.7 259.9L443.8 265.1L446.8 270.4L434.5 270.4L419.7 270.4L418.6 249.3Z"/>
<path fill="#fec44f" d="M419.7 270.4L446.8 270.4L447.9 273.1L447.8 276.8L451.0 281.0L447.7 283.6L446.9 290.7L445.9 295.0L443.5 300.0L442.2 300.8L441.5 303.4L438.9 301.5L437.4 297.6L435.0 302.6L426.5 303.4L422.5 301.0L419.5 305.2L418.1 305.8L417.2 302.1L415.7 299.4L414.7 295.2L413.1 295.2L413.9 292.1L415.6 287.0L418.0 287.0L417.6 277.0L417.6 275.7L419.9 275.7Z"/>
<path fill="#fe9929" d="M418.1 305.8L419.5 305.2L422.5 301.0L426.5 303.4L435.0 302.6L437.4 297.6L438.9 301.5L441.5 303.4L442.3 306.0L439.3 307.3L440.5 310.0L444.1 313.9L441.8 317.1L440.6 318.6L436.7 319.0L434.4 319.2L431.5 316.3L427.8 316.6L426.6 314.7L423.1 311.3L420.7 309.5Z"/>
<path fill="#fe9929" d="M396.8 267.8L417.6 277.0L418.0 287.0L415.6 287.0L413.9 292.1L413.1 295.2L414.7 295.2L415.7 299.4L413.6 300.0L411.4 303.4L406.7 304.7L405.4 307.3L401.0 308.1L398.7 308.7L397.0 305.2L398.6 302.3L394.9 302.1L397.2 298.1L396.2 294.7L394.1 292.3L398.0 289.4L398.4 276.0Z"/>
<path fill="#fe9929" d="M389.9 266.5L396.8 267.8L398.4 276.0L398.0 289.4L394.1 292.3L391.6 293.9L387.4 293.4L383.5 294.7L380.7 293.4L378.4 293.9L375.1 291.8L372.1 292.8L371.0 297.6L369.1 295.7L367.5 295.0L365.0 293.4L363.6 291.5L363.1 289.2L365.6 288.1L370.9 287.3L372.3 284.1L372.3 278.1L375.9 277.3L379.8 273.3Z"/>
<path fill="#fe9929" d="M334.5 289.7L336.1 287.3L337.7 288.4L340.8 287.7L350.0 287.6L350.4 285.5L348.9 273.1L349.0 262.8L351.8 262.5L364.9 273.1L370.2 278.6L372.3 278.1L372.3 284.1L370.9 287.3L365.6 288.1L363.1 289.2L361.5 288.6L358.0 291.0L355.7 292.8L352.7 293.6L350.6 298.4L349.9 301.0L348.3 301.5L346.4 301.5L344.1 301.5L343.4 299.4L341.6 296.3L338.1 297.1L336.3 295.7L334.4 295.5L333.8 293.1Z"/>
<path fill="#fe9929" d="M324.7 285.7L323.7 288.9L322.3 289.7L323.8 292.1L326.6 292.1L330.8 292.8L330.8 293.4L326.6 293.2L324.0 293.9L324.0 295.7L326.8 295.5L331.0 295.2L334.4 295.5L333.8 293.1L334.5 289.7L329.3 284.7Z"/>
<path fill="#fee391" d="M323.8 292.1L326.6 292.1L330.8 292.8L330.8 293.4L326.6 293.2L324.0 293.9Z"/>
<path fill="#fec44f" d="M324.0 295.7L326.8 295.5L331.0 295.2L330.9 296.8L330.9 297.9L327.9 299.4L325.1 297.9Z"/>
<path fill="#fe9929" d="M331.0 295.2L334.4 295.5L336.3 295.7L338.1 297.1L341.6 296.3L343.4 299.4L344.1 301.5L344.8 306.3L343.6 308.4L342.0 308.1L340.8 308.7L338.7 306.0L337.8 303.9L336.7 302.1L334.6 302.3L332.0 304.2L330.2 302.6L327.9 299.4L330.9 297.9L330.9 296.8Z"/>
<path fill="#fe9929" d="M332.0 304.2L334.6 302.3L336.7 302.1L337.8 303.9L338.7 306.0L335.9 310.3L333.6 308.9L331.8 306.6Z"/>
<path fill="#fe9929" d="M335.9 310.3L338.7 306.0L340.8 308.7L342.0 308.1L343.6 308.4L342.9 311.8L345.2 316.8L340.6 313.9L338.2 311.8Z"/>
<path fill="#fe9929" d="M345.2 316.8L349.2 315.3L353.3 314.7L355.9 315.0L356.1 307.6L356.2 303.1L354.5 302.3L351.7 302.9L349.9 301.0L348.3 301.5L346.4 301.5L344.1 301.5L344.8 306.3L343.6 308.4L342.9 311.8Z"/>
<path fill="#fe9929" d="M349.9 301.0L350.6 298.4L352.7 293.6L355.7 292.8L358.0 291.0L361.5 288.6L363.1 289.2L363.6 291.5L365.0 293.4L367.5 295.0L369.1 295.7L367.7 297.9L364.7 299.4L362.4 299.2L356.2 299.4L356.2 303.1L354.5 302.3L351.7 302.9Z"/>
<path fill="#fe9929" d="M355.9 315.0L358.0 315.9L362.2 313.9L365.4 312.4L364.0 310.3L363.8 306.6L362.6 300.5L362.4 299.2L356.2 299.4L356.2 303.1L356.1 307.6Z"/>
<path fill="#fe9929" d="M365.4 312.4L366.4 312.1L366.4 304.7L365.9 303.4L364.7 299.4L362.4 299.2L362.6 300.5L363.8 306.6L364.0 310.3Z"/>
<path fill="#fe9929" d="M366.4 312.1L368.9 311.7L368.9 304.7L371.0 301.3L371.0 297.6L369.1 295.7L367.7 297.9L364.7 299.4L365.9 303.4L366.4 304.7Z"/>
<path fill="#d95f0e" d="M368.9 311.7L372.6 311.6L376.1 317.1L378.9 316.8L382.4 316.3L384.7 311.6L387.3 310.0L390.1 309.7L391.4 306.0L393.5 301.8L394.2 298.9L396.2 296.5L395.5 294.7L394.1 292.3L391.6 293.9L387.4 293.4L383.5 294.7L380.7 293.4L378.4 293.9L375.1 291.8L372.1 292.8L371.0 297.6L371.0 301.3L368.9 304.7Z"/>
<path fill="#fe9929" d="M382.4 316.3L385.2 317.9L385.5 322.4L389.0 322.5L393.6 322.6L396.0 324.8L399.9 324.0L400.4 322.6L397.6 317.9L396.6 314.2L398.7 308.7L397.0 305.2L398.6 302.3L394.9 302.1L397.2 298.1L396.2 294.7L395.5 294.7L396.2 296.5L394.2 298.9L393.5 301.8L391.4 306.0L390.1 309.7L387.3 310.0L384.7 311.6Z"/>
<path fill="#fe9929" d="M396.6 314.2L397.6 317.9L400.4 322.6L403.4 319.5L405.7 319.2L409.2 317.1L415.0 317.4L418.5 315.8L422.0 314.5L426.6 314.7L423.1 311.3L420.7 309.5L418.1 305.8L417.2 302.1L415.7 299.4L413.6 300.0L411.4 303.4L406.7 304.7L405.4 307.3L401.0 308.1L398.7 308.7Z"/>
<path fill="#fec44f" d="M385.5 322.4L385.0 325.8L389.0 325.8L389.0 322.5Z"/>
<path fill="#fec44f" d="M385.0 325.8L384.3 327.9L382.9 330.0L384.8 332.4L388.0 336.9L389.7 338.5L390.6 336.4L389.4 335.0L391.8 334.8L392.9 334.0L395.3 334.8L396.4 333.2L396.0 329.8L395.0 327.1L396.0 324.8L393.6 322.6L389.0 322.5L389.0 325.8Z"/>
<path fill="#fec44f" d="M389.7 338.5L390.6 341.6L392.2 340.1L394.1 341.4L397.6 339.8L399.7 337.7L400.4 333.7L403.0 329.8L404.1 327.7L404.8 323.2L405.7 319.2L403.4 319.5L400.4 322.6L399.9 324.0L396.0 324.8L395.0 327.1L396.0 329.8L396.4 333.2L395.3 334.8L392.9 334.0L391.8 334.8L389.4 335.0L390.6 336.4Z"/>
<path fill="#d95f0e" d="M391.0 344.3L392.9 344.0L401.0 344.3L403.5 349.6L406.8 349.3L413.3 347.7L413.2 353.8L414.1 357.7L418.3 357.5L418.9 358.3L421.7 358.8L425.2 359.0L427.4 361.4L431.1 363.3L431.2 360.6L428.5 357.5L429.1 350.9L433.9 350.3L430.8 344.3L430.6 339.5L430.2 335.8L431.6 331.9L432.1 326.9L434.6 323.7L435.5 322.6L434.4 319.2L431.5 316.3L427.8 316.6L426.6 314.7L422.0 314.5L418.5 315.8L415.0 317.4L409.2 317.1L405.7 319.2L404.8 323.2L404.1 327.7L403.0 329.8L400.4 333.7L399.7 337.7L397.6 339.8L394.1 341.4L392.2 341.1L391.3 343.7Z"/>
<path fill="#fe9929" d="M391.0 344.3L391.5 346.6L393.3 351.7L394.6 357.5L393.6 361.7L390.6 368.5L389.7 374.1L393.7 373.3L395.3 374.3L405.2 374.6L408.6 375.7L410.9 375.9L416.4 374.9L413.3 371.2L413.5 362.7L418.1 362.7L418.3 357.5L414.1 357.7L413.2 353.8L413.3 347.7L406.8 349.3L403.5 349.6L401.0 344.3L392.9 344.0ZM390.6 341.6L392.2 340.6L392.9 341.4L391.0 343.7Z"/>
<path fill="#fe9929" d="M413.5 362.7L413.3 371.2L416.4 374.9L420.8 375.4L424.0 375.9L427.1 372.0L430.6 369.9L432.7 369.6L432.4 366.7L438.4 364.6L439.5 360.6L439.8 356.9L439.0 353.2L434.6 351.1L433.9 350.3L429.1 350.9L428.5 357.5L431.2 360.6L431.1 363.3L427.4 361.4L425.2 359.0L421.7 358.8L418.9 358.3L418.3 357.5L418.1 362.7Z"/>
<path fill="#fec44f" d="M389.7 374.1L391.3 378.6L393.3 383.3L395.7 388.8L397.0 398.6L399.7 403.9L403.0 404.7L407.6 403.4L408.0 393.9L408.3 386.5L410.5 386.5L410.8 376.7L416.1 375.9L420.8 375.4L416.4 374.9L410.9 375.9L408.6 375.7L405.2 374.6L395.3 374.3L393.7 373.3Z"/>
<path fill="#fec44f" d="M408.3 386.5L408.0 393.9L409.6 399.1L413.5 397.0L415.9 395.2L420.4 396.0L424.0 391.2L429.7 386.7L426.6 385.2L424.4 381.2L420.8 375.4L416.1 375.9L410.8 376.7L410.5 386.5Z"/>
<path fill="#fe9929" d="M420.8 375.4L424.0 375.9L427.1 372.0L430.6 369.9L432.7 369.6L434.1 370.7L438.3 372.5L437.8 378.6L438.2 381.2L434.0 387.5L429.7 386.7L426.6 385.2L424.4 381.2Z"/>
<path fill="#fe9929" d="M456.5 356.1L456.6 361.4L456.5 368.0L453.1 372.8L447.4 375.7L444.0 379.9L442.3 380.7L443.2 385.2L443.3 391.5L437.4 395.7L436.9 399.3L435.0 397.0L435.2 394.4L434.0 387.5L438.2 381.2L437.8 378.6L438.3 372.5L434.1 370.7L432.7 369.6L432.4 366.7L438.4 364.6L439.3 366.7L442.3 367.0L443.9 371.2L443.1 373.6L445.1 370.7L445.3 366.7L442.8 358.8L443.7 358.3L449.5 359.0L453.0 357.2Z"/>
<path fill="#fe9929" d="M439.0 353.2L441.3 354.0L442.8 358.8L445.3 366.7L445.1 370.7L443.1 373.6L443.9 371.2L442.3 367.0L439.3 366.7L438.4 364.6L439.5 360.6L439.8 356.9Z"/>
<path fill="#fe9929" d="M454.1 340.8L452.9 345.6L454.5 346.9L453.9 350.9L454.7 354.8L456.5 356.1L453.0 357.2L449.5 359.0L443.7 358.3L442.8 358.8L441.3 354.0L439.0 353.2L434.6 351.1L433.9 350.3L430.8 344.3L430.6 339.5L432.5 339.8L434.4 337.2L433.7 334.8L434.4 331.1L441.6 331.1L450.4 336.4Z"/>
<path fill="#d95f0e" d="M454.1 340.8L455.8 337.2L459.5 332.9L458.1 321.1L460.2 318.2L457.4 317.4L455.3 319.2L451.1 319.0L446.4 316.6L444.1 313.9L441.8 317.1L440.6 318.6L443.0 323.7L441.9 327.9L441.6 331.1L450.4 336.4Z"/>
<path fill="#fe9929" d="M441.6 331.1L434.4 331.1L431.6 331.9L432.1 326.9L434.6 323.7L435.5 322.6L434.4 319.2L436.7 319.0L440.6 318.6L443.0 323.7L441.9 327.9Z"/>
<path fill="#fe9929" d="M430.2 335.8L431.6 331.9L434.4 331.1L433.7 334.8L431.6 336.1Z"/>
<path fill="#fe9929" d="M430.2 335.8L431.6 336.1L433.7 334.8L434.4 337.2L432.5 339.8L430.6 339.5Z"/>
<path fill="#d95f0e" d="M444.1 313.9L446.4 316.6L451.1 319.0L455.3 319.2L457.4 317.4L460.2 318.2L462.7 315.5L467.3 315.3L473.7 307.3L464.8 304.7L461.8 299.7L461.8 298.1L460.7 295.5L458.6 293.4L455.0 290.2L451.5 290.5L448.1 290.7L446.9 290.7L445.9 295.0L443.5 300.0L442.2 300.8L441.5 303.4L442.3 306.0L439.3 307.3L440.5 310.0Z"/>
<path fill="#fe9929" d="M446.9 290.7L447.7 283.6L451.0 281.0L452.9 286.2L454.8 287.6L457.7 290.2L462.3 295.0L460.7 295.5L458.6 293.4L455.0 290.2L451.5 290.5L448.1 290.7Z"/>
<path fill="#fec44f" d="M460.7 295.5L462.3 295.0L462.9 297.1L461.8 298.1L462.7 298.1L461.8 299.7L459.5 299.2L459.4 297.9Z"/>
<path fill="#fe9929" d="M461.8 299.7L463.7 300.8L466.0 301.0L469.3 300.2L473.8 298.9L478.4 298.1L481.2 297.3L481.8 301.0L479.9 304.7L477.7 310.5L474.3 315.3L470.9 320.5L466.3 324.5L462.8 327.7L460.5 330.8L459.5 332.9L458.1 321.1L460.2 318.2L462.7 315.5L467.3 315.3L473.7 307.3L464.8 304.7Z"/>
<path fill="#fe9929" d="M399.7 403.9L401.3 408.9L403.1 412.3L403.2 417.9L404.0 419.2L406.6 420.2L412.3 418.1L419.1 418.1L424.4 415.5L428.3 411.0L432.0 407.3L435.4 403.6L436.9 399.3L435.1 399.1L434.8 396.8L435.2 394.4L434.0 387.5L429.7 386.7L424.0 391.2L420.4 396.0L415.9 395.2L413.5 397.0L409.6 399.1L408.0 393.9L407.6 403.4L403.0 404.7Z"/>
<path fill="#fec44f" d="M423.1 406.5L425.5 404.4L428.5 406.0L427.5 408.4L425.2 409.2L423.7 408.4Z"/>
<path fill="#fec44f" d="M432.8 396.5L435.0 397.0L435.1 399.1L433.7 400.5L432.2 399.1L432.5 397.6Z"/>
<path fill="#d95f0e" d="M476.8 360.1L479.1 369.1L477.4 370.7L476.2 374.6L473.5 382.5L470.6 391.8L464.8 396.0L462.4 394.4L462.0 390.4L461.4 386.5L464.3 381.2L464.1 375.9L464.6 372.0L468.6 369.9L473.3 364.3L474.7 364.1Z"/>
<path fill="#fee391" d="M438.8 245.9L440.8 250.6L441.4 245.4L441.5 242.2L441.6 240.6L440.3 241.1L439.4 245.1Z"/>
<path fill="#fee391" d="M440.3 241.1L441.6 240.6L443.3 238.2L441.8 237.2L441.0 239.0Z"/>
<path fill="#fee391" d="M440.8 250.6L444.5 251.4L446.4 248.5L445.0 245.4L449.7 243.5L448.4 240.4L444.3 243.3L441.5 242.2L441.4 245.4Z"/>
<path fill="#fee391" d="M441.6 240.6L441.5 242.2L444.3 243.3L448.4 240.4L452.9 237.7L452.8 233.5L454.7 230.3L449.7 230.6L445.5 231.4L442.6 231.4L441.9 234.0L441.2 235.1L441.8 237.2L443.3 238.2Z"/>
<path fill="#fec44f" d="M448.4 240.4L449.7 243.5L452.4 244.3L456.5 246.4L462.9 251.4L466.9 251.7L469.3 249.1L471.2 249.6L469.8 248.0L469.0 246.7L469.1 244.0L464.7 241.4L463.0 238.8L462.4 234.8L463.4 234.0L460.8 231.7L460.1 230.3L454.7 230.3L452.8 233.5L452.9 237.7Z"/>
<path fill="#ffffd4" d="M466.9 251.7L469.3 249.1L470.0 249.6L471.4 253.3L468.3 253.3Z"/>
<path fill="#fec44f" d="M440.8 250.6L444.5 251.4L446.4 248.5L445.0 245.4L449.7 243.5L452.4 244.3L456.5 246.4L462.9 251.4L466.9 251.7L468.3 253.3L471.4 253.3L472.6 255.7L475.8 258.6L477.4 262.5L479.8 264.4L481.0 267.8L489.1 268.6L488.5 275.7L481.8 278.3L475.1 279.7L471.9 283.6L469.5 282.8L466.1 282.6L463.8 282.6L462.2 283.6L461.2 285.2L458.7 281.5L455.4 277.0L452.1 271.7L450.2 266.5L447.0 262.5L443.9 257.8L441.9 254.6L440.5 254.3Z"/>
<path fill="#fec44f" d="M461.2 285.2L462.2 283.6L463.8 282.6L466.1 282.6L469.5 282.8L471.9 283.6L475.1 279.7L481.8 278.3L484.8 284.7L482.9 287.0L477.1 289.7L473.5 291.5L467.9 294.2L463.3 295.2L462.5 293.4L461.0 287.0Z"/>
<path fill="#ffffd4" d="M484.8 284.7L481.8 278.3L488.5 275.7L489.1 268.6L490.5 262.8L491.6 264.4L495.7 266.2L498.9 269.4L496.4 274.4L495.1 277.8L492.5 279.4L489.1 283.6Z"/>
<path fill="#ffffd4" d="M479.8 264.4L485.3 264.9L488.3 261.2L489.5 259.6L490.5 262.8L489.1 268.6L481.0 267.8Z"/>
<path fill="#ffffd4" d="M477.9 263.0L479.6 262.5L479.3 259.6L478.0 259.9Z"/>
<path fill="#fec44f" d="M457.4 224.6L458.5 228.2L460.1 230.3L460.8 231.7L463.4 234.0L462.4 234.8L463.0 238.8L464.7 241.4L469.1 244.0L469.0 246.7L469.8 248.0L471.2 249.6L474.4 248.8L476.7 252.2L478.6 254.9L483.4 257.8L486.9 258.3L489.6 257.0L492.3 260.4L497.4 261.5L502.2 262.0L502.3 258.6L505.4 256.7L503.9 254.1L499.3 250.6L498.9 249.9L500.1 245.9L498.2 245.4L496.2 239.6L496.9 237.5L496.7 234.6L493.6 231.9L491.4 229.8L487.2 227.7L484.7 228.2L481.8 229.8L479.9 230.3L474.9 231.4L471.4 229.8L468.9 228.2L468.5 227.2L466.3 225.9L463.0 225.9L459.4 223.8L459.0 223.8Z"/>
<path fill="#fec44f" d="M498.9 249.9L500.1 245.9L498.2 245.4L496.2 239.6L496.9 237.5L496.7 234.6L499.3 235.3L500.7 233.8L503.1 230.6L505.4 229.3L507.2 229.8L510.0 230.3L512.5 230.1L515.1 229.3L517.7 228.5L518.1 231.7L520.5 230.9L525.5 229.8L522.0 232.2L518.7 232.2L519.0 236.1L517.0 238.8L516.1 241.4L517.3 245.1L513.4 245.6L511.2 249.6L506.1 250.9L501.5 250.6Z"/>
<path fill="#d95f0e" d="M502.2 262.0L508.8 262.0L513.3 261.5L516.0 265.1L517.7 265.9L522.2 260.7L520.6 257.2L522.4 254.6L524.4 253.3L527.1 249.6L528.7 246.7L529.9 243.0L526.9 241.4L525.5 237.5L526.6 236.7L531.4 234.8L526.0 230.9L525.5 229.8L520.5 230.9L518.1 231.7L518.7 232.2L519.0 236.1L517.0 238.8L516.1 241.4L517.3 245.1L513.4 245.6L511.2 249.6L506.1 250.9L501.5 250.6L498.9 249.9L499.3 250.6L503.9 254.1L505.4 256.7L502.3 258.6Z"/>
<path fill="#993404" d="M517.7 265.9L519.5 269.6L522.6 273.1L528.4 271.7L529.5 278.3L531.9 286.2L534.7 291.5L536.3 296.8L539.7 303.4L542.8 307.1L544.2 305.0L546.5 301.3L547.9 301.3L547.4 296.8L548.2 292.8L547.0 287.6L552.0 284.7L555.4 280.2L559.5 276.0L561.4 273.1L563.9 271.2L565.6 270.7L573.6 273.9L574.1 272.3L575.0 267.8L576.7 265.7L577.0 262.0L577.7 258.6L579.3 256.7L581.9 257.0L581.6 253.8L576.7 252.0L574.1 251.4L572.7 253.0L569.8 255.1L568.9 255.1L570.5 257.5L565.4 257.8L562.8 256.4L560.9 254.9L561.7 258.6L556.9 258.3L553.1 256.4L550.4 256.2L547.0 254.9L543.1 252.2L542.5 252.5L543.7 248.8L539.9 246.9L537.4 245.4L539.0 242.7L537.1 241.4L538.0 238.8L537.9 234.6L533.8 234.8L531.4 234.8L526.6 236.7L525.5 237.5L526.9 241.4L529.9 243.0L528.7 246.7L527.1 249.6L524.4 253.3L522.4 254.6L520.6 257.2L522.2 260.7Z"/>
<path fill="#fe9929" d="M542.5 252.5L543.7 248.8L547.2 249.6L549.9 251.4L553.6 253.0L556.2 254.9L560.9 254.9L561.7 258.6L556.9 258.3L553.1 256.4L550.4 256.2L547.0 254.9L543.1 252.2Z"/>
<path fill="#fec44f" d="M562.8 256.4L565.4 257.8L570.5 257.5L568.9 255.1L565.0 253.8L563.0 255.1Z"/>
<path fill="#d95f0e" d="M565.6 270.7L565.3 268.1L563.8 264.6L562.3 263.6L562.9 261.5L563.8 259.3L565.8 260.1L568.6 262.0L572.1 262.5L571.6 264.9L572.8 268.1L574.1 272.3L573.6 273.9L571.9 269.6L569.0 270.4Z"/>
<path fill="#fe9929" d="M548.0 302.6L548.9 302.6L552.9 308.7L551.7 312.1L550.1 312.9L548.6 310.5L548.0 307.3Z"/>
<path fill="#d95f0e" d="M629.7 223.3L625.2 225.9L623.5 220.9L621.4 220.9L619.5 223.5L616.6 225.6L621.1 229.8L621.6 230.3L629.2 229.8L626.1 233.2L624.7 236.1L630.5 242.7L634.4 246.7L632.9 248.0L635.7 249.9L634.2 255.9L633.2 261.2L630.4 263.8L627.8 267.8L622.9 269.6L620.3 270.4L617.1 271.7L615.4 274.9L612.6 271.7L609.1 271.6L605.6 268.3L602.7 267.0L598.4 268.6L597.2 269.6L595.5 269.4L594.9 272.5L592.0 271.7L589.5 270.2L588.0 267.8L586.8 264.9L584.2 265.4L584.1 261.2L585.0 255.9L581.6 253.8L576.7 252.0L574.1 251.4L572.7 253.0L569.8 255.1L568.9 255.1L565.0 253.8L563.0 255.1L562.8 256.4L560.9 254.9L556.2 254.9L553.6 253.0L549.9 251.4L547.2 249.6L543.7 248.8L539.9 246.9L537.4 245.4L539.0 242.7L537.1 241.4L538.0 238.8L537.9 234.6L533.8 234.8L531.4 234.8L526.0 230.9L525.5 229.8L524.7 226.9L521.4 224.6L521.5 222.7L524.3 221.4L526.6 221.9L529.3 220.4L532.9 217.5L532.3 215.2L533.2 214.6L529.8 210.2L534.6 209.2L533.8 204.8L539.0 204.8L538.0 201.2L540.0 199.1L542.3 200.7L548.3 202.5L550.8 205.8L551.0 208.7L558.0 210.2L562.6 212.0L566.4 215.9L574.4 216.2L578.3 216.5L584.8 218.0L589.6 217.0L596.1 215.7L598.1 213.3L596.9 211.8L598.9 210.5L605.4 205.8L610.2 205.6L606.0 204.8L598.9 197.5L601.7 198.4L603.8 196.3L600.4 188.7L604.9 188.2L612.2 190.0L622.4 198.4L631.7 203.0L638.2 201.4L638.0 203.2L640.0 209.4L636.2 210.0L638.4 212.5L639.6 215.4L639.9 217.0L636.7 217.8L634.6 217.8L632.1 219.1ZM611.8 278.1L614.0 280.4L616.2 279.7L616.8 276.8L614.3 275.4L611.6 276.8Z"/>
<path fill="#fee391" d="M636.0 267.8L637.9 270.4L639.2 267.8L639.2 262.5L637.0 262.5L635.8 265.7Z"/>
<path fill="#fee391" d="M540.0 199.1L541.5 198.9L547.8 195.3L555.9 197.3L559.4 194.5L558.9 192.0L566.4 192.8L576.5 196.3L581.8 198.4L592.8 196.6L597.2 197.1L598.9 197.5L606.0 204.8L610.2 205.6L605.4 205.8L598.9 210.5L596.9 211.8L598.1 213.3L596.1 215.7L589.6 217.0L584.8 218.0L578.3 216.5L574.4 216.2L566.4 215.9L562.6 212.0L558.0 210.2L551.0 208.7L550.8 205.8L548.3 202.5L542.3 200.7Z"/>
<path fill="#fec44f" d="M457.7 201.2L458.4 196.1L460.8 195.8L464.2 193.0L468.6 193.0L472.1 194.5L475.2 194.8L479.1 194.5L483.1 194.5L486.2 193.8L483.3 189.5L483.3 187.0L490.5 185.5L495.1 184.7L500.8 184.5L506.8 187.0L512.7 187.0L516.1 188.7L523.5 195.0L529.3 194.5L537.0 198.1L540.0 199.1L538.0 201.2L539.0 204.8L533.8 204.8L534.6 209.2L529.8 210.2L533.2 214.6L532.3 215.2L532.9 217.5L528.6 215.4L523.2 215.2L519.9 214.6L518.4 216.5L513.0 217.0L510.2 219.6L509.4 221.2L507.6 220.1L502.9 217.8L502.3 215.2L499.2 213.3L493.3 213.8L490.8 211.8L488.3 211.3L484.6 208.4L479.6 210.0L482.1 219.6L481.0 219.6L479.9 219.6L474.3 218.3L475.3 217.8L474.3 216.5L471.5 215.2L468.1 211.8L470.1 211.3L469.6 209.4L473.1 207.4L472.1 205.3L468.9 205.0L466.0 205.8L464.1 206.3L463.1 206.3L459.8 203.0Z"/>
<path fill="#fec44f" d="M482.1 219.6L479.6 210.0L484.6 208.4L488.3 211.3L490.8 211.8L493.3 213.8L499.2 213.3L502.3 215.2L502.9 217.8L507.6 220.1L509.4 221.2L510.2 219.6L513.0 217.0L515.7 219.3L518.7 220.6L516.6 222.2L514.0 222.7L514.3 220.9L510.9 221.2L510.1 224.3L508.2 225.1L510.0 230.3L507.2 229.8L506.8 228.2L501.9 225.9L496.6 222.7L494.9 220.4L491.7 219.9L490.1 217.8L486.5 216.2L484.2 219.6Z"/>
<path fill="#fee391" d="M475.3 217.8L474.3 218.3L475.8 220.9L478.7 224.6L478.6 228.2L479.9 230.3L481.8 229.8L484.7 228.2L487.2 227.7L491.4 229.8L493.6 231.9L496.7 234.6L499.3 235.3L500.7 233.8L503.1 230.6L505.4 229.3L507.2 229.8L506.8 228.2L501.9 225.9L496.6 222.7L494.9 220.4L491.7 219.9L490.1 217.8L486.5 216.2L484.2 219.6L482.1 219.6L481.0 219.6L479.9 219.6Z"/>
<path fill="#fee391" d="M513.0 217.0L518.4 216.5L519.9 214.6L523.2 215.2L528.6 215.4L532.9 217.5L529.3 220.4L526.6 221.9L524.3 221.4L521.5 222.7L521.4 224.6L517.4 224.8L514.3 224.0L511.5 223.0L514.0 222.7L516.6 222.2L518.7 220.6L515.7 219.3Z"/>
<path fill="#ffffd4" d="M510.0 230.3L512.5 230.1L515.1 229.3L517.7 228.5L518.1 231.7L520.5 230.9L525.5 229.8L524.7 226.9L521.4 224.6L517.4 224.8L514.3 224.0L511.5 223.0L510.9 221.2L514.3 220.9L514.0 222.7L510.1 224.3L508.2 225.1Z"/>
<path fill="#fe9929" d="M573.6 273.9L574.1 272.3L575.0 267.8L576.7 265.7L577.0 262.0L577.7 258.6L579.3 256.7L581.9 257.0L581.6 253.8L585.0 255.9L584.1 261.2L584.2 265.4L586.8 264.9L588.0 267.8L589.5 270.2L592.0 271.7L591.6 274.6L588.2 276.5L587.0 279.7L586.7 283.9L590.6 287.8L591.8 294.2L593.6 298.6L591.8 302.1L590.1 295.5L587.8 287.6L585.9 284.9L582.2 286.8L579.9 286.2L579.6 281.0L577.2 276.5Z"/>
<path fill="#fe9929" d="M591.6 274.6L592.8 277.0L594.6 276.8L595.0 282.3L597.0 280.4L601.5 281.2L603.6 284.7L606.1 287.6L605.5 290.7L600.4 290.7L599.9 296.3L595.8 292.8L594.0 293.1L592.6 300.8L595.5 306.0L596.0 309.5L598.8 310.8L600.1 312.1L597.6 313.4L595.4 311.6L593.8 308.7L591.0 307.3L591.8 302.1L593.6 298.6L591.8 294.2L590.6 287.8L586.7 283.9L587.0 279.7L588.2 276.5Z"/>
<path fill="#fec44f" d="M592.0 271.7L594.9 272.5L595.5 269.4L597.2 269.6L598.0 273.1L600.4 274.4L601.7 276.8L600.7 277.8L604.7 279.7L607.8 283.6L610.4 287.6L610.6 290.7L607.2 291.3L606.1 287.6L603.6 284.7L601.5 281.2L597.0 280.4L595.0 282.3L594.6 276.8L592.8 277.0L591.6 274.6Z"/>
<path fill="#fec44f" d="M600.4 290.7L605.5 290.7L607.2 291.3L610.6 290.7L611.6 295.5L608.3 299.4L605.6 300.8L602.6 300.5L599.9 296.3Z"/>
<path fill="#fe9929" d="M609.1 271.6L606.6 274.4L605.2 278.3L607.4 282.3L611.4 286.2L614.4 291.5L615.7 296.8L612.9 300.0L609.7 302.6L606.2 305.8L605.6 300.8L608.3 299.4L611.6 295.5L610.6 290.7L610.4 287.6L607.8 283.6L604.7 279.7L600.7 277.8L601.7 276.8L600.4 274.4L598.0 273.1L597.2 269.6L598.4 268.6L602.7 267.0L605.6 268.3Z"/>
<path fill="#fec44f" d="M595.4 311.6L597.6 313.4L600.1 312.1L603.2 315.8L603.4 319.2L605.4 324.5L603.7 325.0L598.5 321.1L596.3 317.9L596.0 313.9ZM617.9 323.2L619.6 324.0L623.1 325.8L625.9 324.5L629.6 324.5L631.6 320.5L632.6 317.9L637.1 317.4L639.9 314.5L636.2 310.3L633.9 310.0L631.1 314.5L627.9 316.6L625.7 320.0L622.3 321.9L619.5 323.4Z"/>
<path fill="#ffffd4" d="M629.1 315.8L630.9 315.3L630.5 317.1Z"/>
<path fill="#fe9929" d="M584.3 313.7L589.5 314.7L596.2 321.9L604.5 325.8L606.1 331.1L609.5 336.4L608.7 343.7L605.7 343.7L600.8 339.0L597.9 335.0L594.5 329.8L592.6 324.5L589.7 321.1L586.1 317.9ZM607.2 346.4L609.6 344.3L614.5 344.8L620.2 345.6L624.6 346.6L628.6 349.0L628.5 351.4L621.6 350.3L614.7 349.0L610.1 348.0ZM617.9 323.2L619.6 324.0L623.1 325.8L625.9 324.5L629.6 324.5L631.6 320.5L632.6 317.9L637.1 317.4L637.2 320.5L639.6 325.8L636.4 327.1L636.4 331.1L633.9 335.0L632.6 339.0L629.2 337.9L625.7 336.9L622.3 336.4L619.2 336.1L618.9 332.4L616.6 328.4L616.6 325.8ZM642.0 326.5L648.0 327.0L653.5 324.8L654.0 326.2L650.0 328.0L644.5 329.2L643.5 331.5L649.0 330.8L649.5 331.8L644.5 333.8L646.0 337.5L648.5 340.0L648.5 343.5L647.0 343.5L645.0 340.0L643.0 338.5L642.0 343.5L640.5 343.5L639.5 338.0L640.0 333.5L641.5 329.0ZM667.8 331.6L670.2 329.5L674.8 330.8L677.0 337.2L682.9 332.4L691.0 335.3L689.9 352.5L687.8 349.8L683.1 350.3L683.2 342.4L679.1 340.6L672.2 339.3L670.0 336.1L673.6 334.5L670.8 333.7ZM650.3 353.5L652.8 352.2L653.2 353.0L650.2 355.6L649.0 355.4ZM629.7 350.1L631.3 350.6L628.7 351.7ZM632.0 350.3L633.7 350.1L633.1 351.9ZM634.3 350.9L639.0 350.3L636.5 352.2L634.2 352.2ZM640.8 350.9L647.8 350.1L648.2 350.9L641.2 351.9ZM638.7 353.5L642.9 354.3L642.1 355.4L638.7 354.3ZM659.6 324.0L662.0 324.5L660.9 327.1L662.5 329.8L660.4 330.0L659.7 327.1ZM656.0 336.6L658.8 337.7L657.1 338.5ZM660.7 336.9L666.5 336.9L667.1 338.5L661.8 337.9ZM607.4 333.7L610.7 335.0L610.6 336.4L608.8 335.0Z"/>
<path fill="#fee391" d="M652.8 352.2L658.2 350.6L656.3 351.9L653.2 353.0Z"/>
<path fill="#fe9929" d="M639.5 280.0L643.5 280.5L644.0 285.0L642.5 290.0L645.0 291.5L648.0 293.0L649.0 295.0L647.5 294.5L645.5 293.5L643.0 292.5L641.5 293.5L642.5 296.0L641.0 294.0L640.5 290.5L639.0 287.0L638.5 283.0ZM650.0 296.0L653.0 298.0L653.5 301.0L652.0 302.0L651.0 300.0ZM645.0 298.5L647.5 299.0L649.0 301.0L648.0 304.5L646.5 303.0L645.5 301.0ZM646.0 309.5L650.0 307.0L654.0 304.0L656.0 306.0L656.0 312.0L654.0 314.0L652.0 312.0L650.0 309.0L647.5 310.5ZM634.5 306.0L639.5 299.0L640.0 300.0L636.0 306.5Z"/>
<path fill="#fec44f" d="M629.7 223.3L632.1 219.1L634.6 217.8L636.7 217.8L639.9 217.0L639.9 220.4L640.0 221.7L637.1 224.3L640.0 226.7L638.0 228.2L636.2 229.0L633.9 228.8L634.0 226.7L631.2 224.0Z"/>
<path fill="#fec44f" d="M636.2 229.0L638.0 228.2L640.0 226.7L645.7 233.5L646.2 235.6L644.0 236.7L641.2 237.7L639.5 234.8L638.9 231.1Z"/>
<path fill="#fec44f" d="M662.1 220.4L665.0 220.8L667.5 224.2L668.3 229.2L670.4 233.3L670.0 235.8L666.2 237.5L663.3 239.2L660.8 237.9L657.9 237.1L655.0 239.2L652.1 240.0L649.2 241.2L650.0 239.6L654.2 236.2L660.0 233.3L661.7 230.0L663.3 226.7L662.5 223.8ZM658.3 209.6L661.7 212.5L665.0 213.3L668.3 212.9L669.2 215.0L666.7 216.2L665.4 218.3L663.3 216.7L660.8 217.9L658.8 215.8L659.6 213.3ZM649.2 240.8L652.9 241.7L654.2 245.0L653.3 246.7L650.8 246.2L649.6 243.3ZM655.0 240.0L659.2 239.2L660.0 240.8L656.7 242.1Z"/>
<path fill="#fee391" d="M692.9 356.7L694.7 361.4L694.6 366.7L697.8 368.0L698.2 374.6L698.0 378.6L703.0 383.8L706.2 387.8L709.3 394.9L707.7 403.9L702.9 411.5L696.4 417.9L688.6 427.3L683.8 428.1L678.4 431.5L675.9 429.4L672.6 430.8L668.2 428.9L666.4 426.6L668.0 423.9L666.1 422.3L665.7 420.8L667.7 415.5L664.8 418.1L661.4 420.8L660.7 420.2L659.4 415.2L654.2 411.5L642.3 413.6L637.1 415.5L635.1 417.9L627.4 417.9L621.3 421.0L616.1 419.2L616.7 416.8L619.7 412.9L620.3 406.3L619.5 401.0L618.6 397.3L621.4 391.8L621.7 387.8L623.9 385.9L629.4 382.8L634.4 382.0L639.8 379.9L643.7 374.6L645.6 371.7L649.6 369.3L652.3 366.7L656.0 365.1L659.1 367.5L661.4 367.7L663.3 362.7L665.3 361.2L669.5 358.8L671.7 359.6L677.0 360.1L679.7 360.9L677.0 363.5L675.2 368.0L679.3 371.2L682.8 374.6L686.3 374.3L689.3 368.0L690.1 362.7L691.5 358.8ZM672.0 435.7L675.4 436.8L679.6 436.3L675.3 441.7L671.7 443.3L670.6 439.9Z"/>
<path fill="#ffffd4" d="M743.5 419.2L744.7 422.9L745.9 425.5L750.2 427.9L746.2 431.8L743.1 433.1L738.0 437.3L735.4 437.3L738.8 433.9L737.2 432.6L741.4 428.7L742.4 424.7ZM732.5 435.2L733.2 438.6L728.8 441.7L725.8 443.8L721.2 445.6L716.9 449.3L712.7 451.1L707.8 450.1L711.4 446.9L716.6 444.4L722.9 441.7L727.4 438.6L731.0 435.2Z"/>
<path fill="#fec44f" d="M691.0 335.3L696.7 337.7L700.1 340.3L702.0 343.2L705.7 344.3L706.2 349.6L708.5 352.2L712.3 355.6L709.2 355.9L703.7 353.5L700.6 349.3L695.9 350.1L694.5 352.7L689.9 352.5ZM707.6 343.0L711.6 341.9L715.3 339.5L717.1 339.8L713.8 343.7L707.9 344.8ZM713.8 335.6L716.5 337.2L718.7 340.6L717.5 340.6ZM722.3 342.7L725.0 346.4L723.7 345.9Z"/>
<path fill="#fec44f" d="M726.4 346.9L729.7 349.0L728.5 349.6ZM732.0 349.6L734.1 351.7L732.9 352.2ZM733.9 353.5L736.0 354.8L734.8 355.6ZM736.5 350.9L737.3 353.5L736.6 353.8Z"/>
<path fill="#fec44f" d="M746.7 368.0L748.0 369.3L747.0 370.1ZM748.3 371.2L749.8 372.8L748.6 373.0Z"/>
<path fill="url(#hatch)" d="M737.8 381.7L740.7 383.8L743.3 387.3L741.7 387.3L738.4 383.8Z"/>
<path fill="#fec44f" d="M770.1 374.6L772.6 375.4L771.7 376.5L769.7 375.9ZM774.2 371.7L777.1 371.2L775.4 372.8Z"/>
</g>
</svg>
<svg style="position:absolute;left:0;top:0" width="850" height="600">
<defs><pattern id="hatch2" width="3.8" height="3.8" patternUnits="userSpaceOnUse" patternTransform="rotate(45)"><rect width="3.8" height="3.8" fill="#f7f7f7"/><line x1="0" y1="0" x2="0" y2="3.8" stroke="#d9d9d9" stroke-width="1.1"/></pattern></defs>
<rect x="215.5" y="538.5" width="48" height="10" fill="url(#hatch2)" stroke="#bbb" stroke-width="0.5"/>
<line x1="239.5" y1="535" x2="239.5" y2="538.5" stroke="#bbb" stroke-width="0.5"/>
<rect x="283.50" y="538.5" width="58.33" height="10" fill="#ffffd4" stroke="#999" stroke-width="0.5"/>
<rect x="341.83" y="538.5" width="58.33" height="10" fill="#fee391" stroke="#999" stroke-width="0.5"/>
<rect x="400.16" y="538.5" width="58.33" height="10" fill="#fec44f" stroke="#999" stroke-width="0.5"/>
<rect x="458.49" y="538.5" width="58.33" height="10" fill="#fe9929" stroke="#999" stroke-width="0.5"/>
<rect x="516.82" y="538.5" width="58.33" height="10" fill="#d95f0e" stroke="#999" stroke-width="0.5"/>
<rect x="575.15" y="538.5" width="58.33" height="10" fill="#993404" stroke="#999" stroke-width="0.5"/>
<line x1="283.50" y1="535" x2="283.50" y2="538.5" stroke="#999" stroke-width="0.5"/>
<line x1="341.83" y1="535" x2="341.83" y2="538.5" stroke="#999" stroke-width="0.5"/>
<line x1="400.16" y1="535" x2="400.16" y2="538.5" stroke="#999" stroke-width="0.5"/>
<line x1="458.49" y1="535" x2="458.49" y2="538.5" stroke="#999" stroke-width="0.5"/>
<line x1="516.82" y1="535" x2="516.82" y2="538.5" stroke="#999" stroke-width="0.5"/>
<line x1="575.15" y1="535" x2="575.15" y2="538.5" stroke="#999" stroke-width="0.5"/>
<line x1="633.48" y1="535" x2="633.48" y2="538.5" stroke="#999" stroke-width="0.5"/>
</svg>
<div class="lg" style="left:183.50px;top:519px;width:200px;text-align:center">0</div>
<div class="lg" style="left:241.83px;top:519px;width:200px;text-align:center">1</div>
<div class="lg" style="left:300.16px;top:519px;width:200px;text-align:center">10</div>
<div class="lg" style="left:358.49px;top:519px;width:200px;text-align:center">100</div>
<div class="lg" style="left:416.82px;top:519px;width:200px;text-align:center">1,000</div>
<div class="lg" style="left:475.15px;top:519px;width:200px;text-align:center">10,000</div>
<div class="lg" style="left:533.48px;top:519px;width:200px;text-align:center">100,000</div>
<div class="lg" style="left:139.5px;top:519px;width:200px;text-align:center">No data</div>
<div id="foot1"><b style="letter-spacing:-0.25px;color:#777">Data source:</b> IHME, Global Burden of Disease (2025)</div>
<div id="foot2">causes-of-death | CC BY</div>
</body></html>
